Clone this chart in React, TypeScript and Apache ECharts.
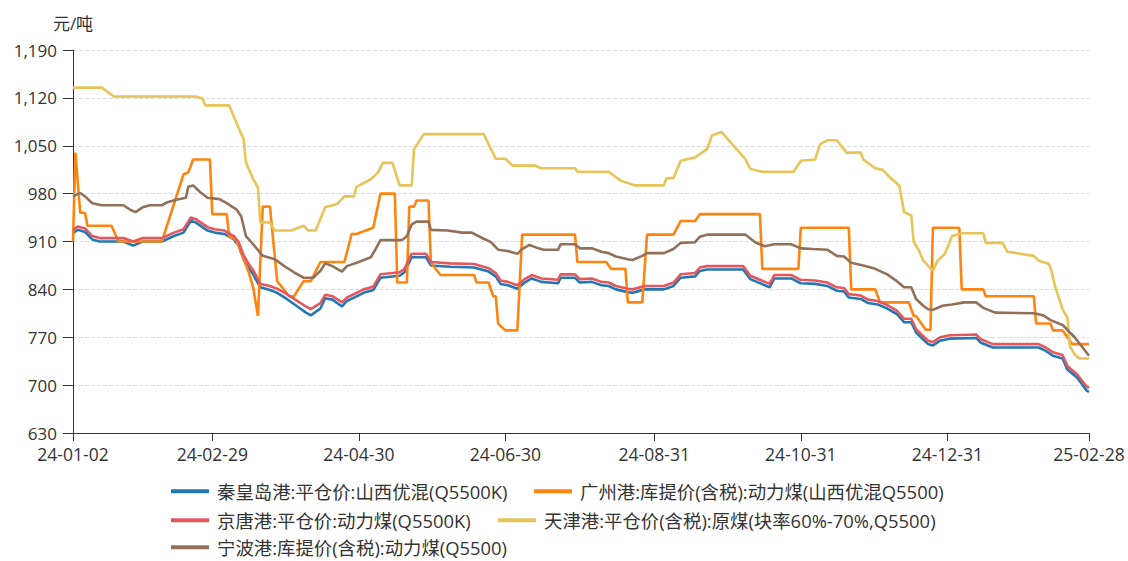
import React, { useEffect, useRef } from "react";
import * as echarts from "echarts";

// ---- tick labels ----
const tickDates: string[] = [
  "2024-01-02", "2024-02-29", "2024-04-30", "2024-06-30",
  "2024-08-31", "2024-10-31", "2024-12-31", "2025-02-28",
];

// ---- series names ----
const names: string[] = [
  "秦皇岛港:平仓价:山西优混(Q5500K)",
  "广州港:库提价(含税):动力煤(山西优混Q5500)",
  "京唐港:平仓价:动力煤(Q5500K)",
  "天津港:平仓价(含税):原煤(块率60%-70%,Q5500)",
  "宁波港:库提价(含税):动力煤(Q5500)",
];

// ---- series values [date, 元/吨] ----
const qinhuangdao: [string, number][] = [
  ["2024-01-02", 922], ["2024-01-04", 927], ["2024-01-07", 924], ["2024-01-10", 913], ["2024-01-13", 910],
  ["2024-01-23", 910], ["2024-01-27", 904], ["2024-01-31", 910], ["2024-02-08", 910], ["2024-02-13", 918],
  ["2024-02-17", 923], ["2024-02-20", 940], ["2024-02-22", 938], ["2024-02-27", 926], ["2024-03-01", 923],
  ["2024-03-05", 921], ["2024-03-09", 913], ["2024-03-11", 904], ["2024-03-13", 884], ["2024-03-15", 872],
  ["2024-03-17", 862], ["2024-03-20", 843], ["2024-03-24", 839], ["2024-03-27", 835], ["2024-03-31", 826],
  ["2024-04-04", 816], ["2024-04-08", 806], ["2024-04-10", 802], ["2024-04-14", 812], ["2024-04-16", 827],
  ["2024-04-19", 825], ["2024-04-23", 815], ["2024-04-25", 823], ["2024-04-28", 828], ["2024-05-02", 835],
  ["2024-05-06", 839], ["2024-05-09", 857], ["2024-05-17", 860], ["2024-05-19", 865], ["2024-05-22", 887],
  ["2024-05-28", 887], ["2024-05-30", 875], ["2024-06-07", 873], ["2024-06-17", 872], ["2024-06-23", 866],
  ["2024-06-26", 859], ["2024-06-28", 848], ["2024-07-01", 846], ["2024-07-05", 841], ["2024-07-08", 850],
  ["2024-07-11", 856], ["2024-07-15", 851], ["2024-07-22", 849], ["2024-07-23", 857], ["2024-07-29", 857],
  ["2024-07-31", 850], ["2024-08-05", 851], ["2024-08-09", 846], ["2024-08-12", 845], ["2024-08-15", 840],
  ["2024-08-20", 836], ["2024-08-22", 835], ["2024-08-27", 840], ["2024-09-04", 840], ["2024-09-08", 845],
  ["2024-09-11", 857], ["2024-09-17", 859], ["2024-09-19", 867], ["2024-09-22", 869], ["2024-10-07", 869],
  ["2024-10-10", 855], ["2024-10-16", 846], ["2024-10-18", 843], ["2024-10-20", 856], ["2024-10-27", 856],
  ["2024-10-31", 849], ["2024-11-06", 848], ["2024-11-11", 845], ["2024-11-15", 838], ["2024-11-18", 837],
  ["2024-11-20", 828], ["2024-11-25", 826], ["2024-11-28", 820], ["2024-12-02", 818], ["2024-12-06", 812],
  ["2024-12-10", 804], ["2024-12-13", 792], ["2024-12-16", 792], ["2024-12-18", 777], ["2024-12-20", 770],
  ["2024-12-23", 760], ["2024-12-25", 758], ["2024-12-28", 765], ["2025-01-01", 768], ["2025-01-12", 769],
  ["2025-01-14", 762], ["2025-01-19", 755], ["2025-02-07", 755], ["2025-02-10", 750], ["2025-02-13", 743],
  ["2025-02-17", 739], ["2025-02-19", 723], ["2025-02-23", 711], ["2025-02-27", 692], ["2025-02-28", 690],
];

const guangzhou: [string, number][] = [
  ["2024-01-02", 910], ["2024-01-03", 1040], ["2024-01-05", 952], ["2024-01-07", 952], ["2024-01-08", 933],
  ["2024-01-18", 933], ["2024-01-21", 910], ["2024-02-08", 910], ["2024-02-17", 1008], ["2024-02-19", 1011],
  ["2024-02-21", 1030], ["2024-02-28", 1030], ["2024-02-29", 950], ["2024-03-06", 950], ["2024-03-07", 918],
  ["2024-03-10", 912], ["2024-03-13", 885], ["2024-03-15", 867], ["2024-03-17", 843], ["2024-03-19", 801],
  ["2024-03-21", 961], ["2024-03-24", 961], ["2024-03-27", 852], ["2024-04-01", 830], ["2024-04-03", 830],
  ["2024-04-07", 852], ["2024-04-10", 852], ["2024-04-14", 880], ["2024-04-24", 880], ["2024-04-27", 921],
  ["2024-04-29", 921], ["2024-05-06", 930], ["2024-05-09", 980], ["2024-05-15", 980], ["2024-05-16", 850],
  ["2024-05-20", 850], ["2024-05-21", 961], ["2024-05-23", 961], ["2024-05-24", 970], ["2024-05-29", 970],
  ["2024-05-30", 879], ["2024-06-03", 861], ["2024-06-17", 861], ["2024-06-18", 850], ["2024-06-23", 850],
  ["2024-06-25", 830], ["2024-06-26", 830], ["2024-06-27", 790], ["2024-06-30", 780], ["2024-07-05", 780],
  ["2024-07-07", 920], ["2024-07-29", 920], ["2024-07-30", 880], ["2024-08-11", 880], ["2024-08-13", 870],
  ["2024-08-19", 870], ["2024-08-20", 821], ["2024-08-26", 821], ["2024-08-28", 920], ["2024-09-08", 920],
  ["2024-09-11", 940], ["2024-09-17", 940], ["2024-09-19", 950], ["2024-10-14", 950], ["2024-10-15", 870],
  ["2024-10-30", 870], ["2024-10-31", 930], ["2024-11-20", 930], ["2024-11-21", 840], ["2024-12-01", 840],
  ["2024-12-03", 821], ["2024-12-15", 821], ["2024-12-17", 801], ["2024-12-18", 801], ["2024-12-22", 781],
  ["2024-12-24", 781], ["2024-12-25", 930], ["2025-01-05", 930], ["2025-01-06", 840], ["2025-01-15", 840],
  ["2025-01-16", 830], ["2025-02-05", 830], ["2025-02-06", 790], ["2025-02-12", 790], ["2025-02-13", 780],
  ["2025-02-17", 780], ["2025-02-21", 760], ["2025-02-28", 760],
];

const jingtang: [string, number][] = [
  ["2024-01-02", 927], ["2024-01-04", 932], ["2024-01-07", 929], ["2024-01-10", 918], ["2024-01-13", 915],
  ["2024-01-23", 915], ["2024-01-27", 910], ["2024-01-31", 915], ["2024-02-08", 915], ["2024-02-13", 923],
  ["2024-02-17", 928], ["2024-02-20", 945], ["2024-02-22", 943], ["2024-02-27", 931], ["2024-03-01", 928],
  ["2024-03-05", 926], ["2024-03-09", 918], ["2024-03-11", 909], ["2024-03-13", 890], ["2024-03-15", 878],
  ["2024-03-17", 868], ["2024-03-20", 848], ["2024-03-24", 845], ["2024-03-27", 841], ["2024-03-31", 833],
  ["2024-04-04", 824], ["2024-04-08", 815], ["2024-04-10", 811], ["2024-04-14", 820], ["2024-04-16", 832],
  ["2024-04-19", 830], ["2024-04-23", 821], ["2024-04-25", 828], ["2024-04-28", 833], ["2024-05-02", 840],
  ["2024-05-06", 844], ["2024-05-09", 862], ["2024-05-17", 865], ["2024-05-19", 870], ["2024-05-22", 892],
  ["2024-05-28", 892], ["2024-05-30", 880], ["2024-06-07", 878], ["2024-06-17", 877], ["2024-06-23", 871],
  ["2024-06-26", 864], ["2024-06-28", 853], ["2024-07-01", 851], ["2024-07-05", 846], ["2024-07-08", 855],
  ["2024-07-11", 861], ["2024-07-15", 856], ["2024-07-22", 854], ["2024-07-23", 862], ["2024-07-29", 862],
  ["2024-07-31", 855], ["2024-08-05", 856], ["2024-08-09", 851], ["2024-08-12", 850], ["2024-08-15", 845],
  ["2024-08-20", 841], ["2024-08-22", 840], ["2024-08-27", 845], ["2024-09-04", 845], ["2024-09-08", 850],
  ["2024-09-11", 862], ["2024-09-17", 864], ["2024-09-19", 872], ["2024-09-22", 874], ["2024-10-07", 874],
  ["2024-10-10", 860], ["2024-10-16", 851], ["2024-10-18", 848], ["2024-10-20", 861], ["2024-10-27", 861],
  ["2024-10-31", 854], ["2024-11-06", 853], ["2024-11-11", 850], ["2024-11-15", 843], ["2024-11-18", 842],
  ["2024-11-20", 833], ["2024-11-25", 831], ["2024-11-28", 825], ["2024-12-02", 823], ["2024-12-06", 817],
  ["2024-12-10", 809], ["2024-12-13", 797], ["2024-12-16", 797], ["2024-12-18", 782], ["2024-12-20", 775],
  ["2024-12-23", 765], ["2024-12-25", 763], ["2024-12-28", 770], ["2025-01-01", 773], ["2025-01-12", 774],
  ["2025-01-14", 767], ["2025-01-19", 760], ["2025-02-07", 760], ["2025-02-10", 755], ["2025-02-13", 748],
  ["2025-02-17", 744], ["2025-02-19", 728], ["2025-02-23", 716], ["2025-02-27", 698], ["2025-02-28", 696],
];

const tianjin: [string, number][] = [
  ["2024-01-02", 1135], ["2024-01-14", 1135], ["2024-01-19", 1122], ["2024-02-22", 1122], ["2024-02-25", 1119],
  ["2024-02-26", 1109], ["2024-03-07", 1109], ["2024-03-10", 1084], ["2024-03-13", 1060], ["2024-03-14", 1026],
  ["2024-03-17", 1001], ["2024-03-19", 989], ["2024-03-20", 938], ["2024-03-24", 938], ["2024-03-26", 926],
  ["2024-04-02", 926], ["2024-04-07", 933], ["2024-04-09", 926], ["2024-04-12", 926], ["2024-04-16", 960],
  ["2024-04-21", 965], ["2024-04-24", 976], ["2024-04-28", 976], ["2024-04-29", 990], ["2024-05-05", 1001],
  ["2024-05-08", 1011], ["2024-05-10", 1025], ["2024-05-14", 1025], ["2024-05-17", 992], ["2024-05-22", 992],
  ["2024-05-23", 1045], ["2024-05-27", 1067], ["2024-06-21", 1067], ["2024-06-26", 1031], ["2024-06-30", 1031],
  ["2024-07-03", 1021], ["2024-07-12", 1021], ["2024-07-15", 1017], ["2024-07-29", 1017], ["2024-07-30", 1012],
  ["2024-08-12", 1012], ["2024-08-17", 999], ["2024-08-23", 992], ["2024-09-04", 992], ["2024-09-05", 1002],
  ["2024-09-08", 1003], ["2024-09-11", 1028], ["2024-09-17", 1033], ["2024-09-22", 1045], ["2024-09-24", 1065],
  ["2024-09-28", 1070], ["2024-10-08", 1030], ["2024-10-10", 1016], ["2024-10-15", 1012], ["2024-10-28", 1012],
  ["2024-10-31", 1028], ["2024-11-06", 1030], ["2024-11-08", 1052], ["2024-11-11", 1058], ["2024-11-15", 1058],
  ["2024-11-19", 1040], ["2024-11-25", 1040], ["2024-11-26", 1030], ["2024-12-01", 1017], ["2024-12-04", 1015],
  ["2024-12-07", 1004], ["2024-12-11", 992], ["2024-12-13", 953], ["2024-12-16", 948], ["2024-12-17", 910],
  ["2024-12-19", 898], ["2024-12-21", 882], ["2024-12-25", 867], ["2024-12-27", 882], ["2024-12-30", 892],
  ["2025-01-02", 918], ["2025-01-06", 922], ["2025-01-15", 922], ["2025-01-16", 908], ["2025-01-23", 908],
  ["2025-01-25", 895], ["2025-02-05", 889], ["2025-02-07", 882], ["2025-02-11", 878], ["2025-02-12", 872],
  ["2025-02-14", 843], ["2025-02-17", 811], ["2025-02-19", 799], ["2025-02-20", 757], ["2025-02-22", 745],
  ["2025-02-24", 739], ["2025-02-28", 739],
];

const ningbo: [string, number][] = [
  ["2024-01-02", 976], ["2024-01-05", 981], ["2024-01-07", 976], ["2024-01-10", 966], ["2024-01-14", 963],
  ["2024-01-23", 963], ["2024-01-26", 956], ["2024-01-28", 953], ["2024-01-31", 960], ["2024-02-03", 963],
  ["2024-02-08", 963], ["2024-02-10", 967], ["2024-02-14", 971], ["2024-02-18", 974], ["2024-02-19", 990],
  ["2024-02-21", 992], ["2024-02-24", 982], ["2024-02-27", 974], ["2024-03-03", 972], ["2024-03-06", 966],
  ["2024-03-10", 957], ["2024-03-12", 947], ["2024-03-14", 918], ["2024-03-17", 906], ["2024-03-21", 889],
  ["2024-03-26", 884], ["2024-03-30", 874], ["2024-04-03", 865], ["2024-04-07", 857], ["2024-04-11", 857],
  ["2024-04-14", 867], ["2024-04-16", 878], ["2024-04-19", 874], ["2024-04-23", 866], ["2024-04-25", 874],
  ["2024-04-30", 880], ["2024-05-05", 887], ["2024-05-07", 899], ["2024-05-09", 912], ["2024-05-18", 912],
  ["2024-05-20", 918], ["2024-05-22", 935], ["2024-05-24", 939], ["2024-05-29", 939], ["2024-05-30", 927],
  ["2024-06-06", 926], ["2024-06-12", 923], ["2024-06-16", 923], ["2024-06-21", 914], ["2024-06-24", 909],
  ["2024-06-27", 898], ["2024-07-01", 896], ["2024-07-05", 892], ["2024-07-07", 899], ["2024-07-10", 905],
  ["2024-07-13", 901], ["2024-07-16", 898], ["2024-07-22", 898], ["2024-07-23", 906], ["2024-07-29", 906],
  ["2024-07-31", 900], ["2024-08-05", 900], ["2024-08-09", 895], ["2024-08-12", 893], ["2024-08-15", 888],
  ["2024-08-20", 884], ["2024-08-22", 883], ["2024-08-26", 889], ["2024-08-28", 893], ["2024-09-04", 893],
  ["2024-09-08", 899], ["2024-09-11", 908], ["2024-09-17", 909], ["2024-09-19", 917], ["2024-09-22", 920],
  ["2024-10-08", 920], ["2024-10-12", 909], ["2024-10-16", 903], ["2024-10-20", 906], ["2024-10-27", 906],
  ["2024-10-31", 900], ["2024-11-05", 899], ["2024-11-11", 898], ["2024-11-15", 889], ["2024-11-18", 888],
  ["2024-11-21", 879], ["2024-11-26", 875], ["2024-12-01", 870], ["2024-12-06", 862], ["2024-12-10", 852],
  ["2024-12-13", 843], ["2024-12-16", 843], ["2024-12-18", 826], ["2024-12-21", 816], ["2024-12-23", 811],
  ["2024-12-25", 810], ["2024-12-29", 816], ["2025-01-02", 818], ["2025-01-07", 821], ["2025-01-12", 821],
  ["2025-01-15", 813], ["2025-01-20", 806], ["2025-02-05", 805], ["2025-02-09", 802], ["2025-02-12", 795],
  ["2025-02-17", 788], ["2025-02-22", 770], ["2025-02-26", 752], ["2025-02-28", 743],
];

const colors: string[] = ["#2277b4", "#ff840f", "#e4585d", "#e6c457", "#93705a"];

const toTs = (s: string): number => {
  const [y, m, d] = s.split("-").map(Number);
  return Date.UTC(y, m - 1, d);
};
const pad = (n: number) => (n < 10 ? "0" + n : "" + n);
const fmtDate = (v: number): string => {
  const d = new Date(v);
  return `${pad(d.getUTCFullYear() % 100)}-${pad(d.getUTCMonth() + 1)}-${pad(d.getUTCDate())}`;
};

const FONT = "'Open Sans', 'Noto Sans CJK SC', sans-serif";
const TEXT = "#333";

export default function App() {
  const ref = useRef<HTMLDivElement>(null);

  useEffect(() => {
    if (!ref.current) return;
    const chart = echarts.init(ref.current, undefined, { renderer: "svg" });
    const seriesData = [qinhuangdao, guangzhou, jingtang, tianjin, ningbo];
    const tickTs = tickDates.map(toTs);

    const legendPos = [
      { left: 171, top: 482 },
      { left: 534, top: 482 },
      { left: 171, top: 511 },
      { left: 498, top: 511 },
      { left: 171, top: 538 },
    ];

    chart.setOption({
      animation: false,
      color: colors,
      textStyle: { fontFamily: FONT },
      grid: { left: 73, right: 39, top: 50, bottom: 128, containLabel: false },
      legend: names.map((n, i) => ({
        data: [n],
        left: legendPos[i].left,
        top: legendPos[i].top,
        padding: 0,
        icon: "rect",
        itemWidth: 38,
        itemHeight: 4,
        itemGap: 22,
        textStyle: { fontSize: 18.4, color: TEXT, fontFamily: FONT, padding: [0, 0, 0, 3] },
      })),
      xAxis: {
        type: "value",
        min: toTs("2024-01-02"),
        max: toTs("2025-02-28"),
        axisLine: { show: true, lineStyle: { color: "#333", width: 1 } },
        axisTick: { show: true, length: 8, lineStyle: { color: "#333" }, customValues: tickTs },
        axisLabel: {
          customValues: tickTs,
          formatter: (v: number) => fmtDate(v),
          fontSize: 17.5,
          color: TEXT,
          margin: 12,
          fontFamily: FONT,
        },
        splitLine: { show: false },
      },
      yAxis: {
        type: "value",
        min: 630,
        max: 1190,
        interval: 70,
        name: "元/吨",
        nameLocation: "end",
        nameGap: 18,
        nameTextStyle: { fontSize: 17, color: TEXT, fontFamily: FONT, align: "center" },
        axisLine: { show: true, lineStyle: { color: "#333", width: 1 } },
        axisTick: { show: true, length: 10, lineStyle: { color: "#333" } },
        axisLabel: {
          fontSize: 17,
          color: TEXT,
          margin: 16,
          fontFamily: FONT,
          formatter: (v: number) => v.toLocaleString("en-US"),
        },
        splitLine: { show: true, lineStyle: { type: "dashed", color: "#dcdcdc", width: 1 } },
      },
      series: names.map((n, i) => ({
        name: n,
        type: "line",
        symbol: "none",
        showSymbol: false,
        smooth: false,
        lineStyle: { width: 2.6, color: colors[i] },
        itemStyle: { color: colors[i] },
        data: seriesData[i].map(([d, v]) => [toTs(d), v]),
      })),
    });

    return () => chart.dispose();
  }, []);

  return (
    <div
      ref={ref}
      style={{ position: "fixed", left: 0, top: 0, width: 1128, height: 561, background: "#fff" }}
    />
  );
}
